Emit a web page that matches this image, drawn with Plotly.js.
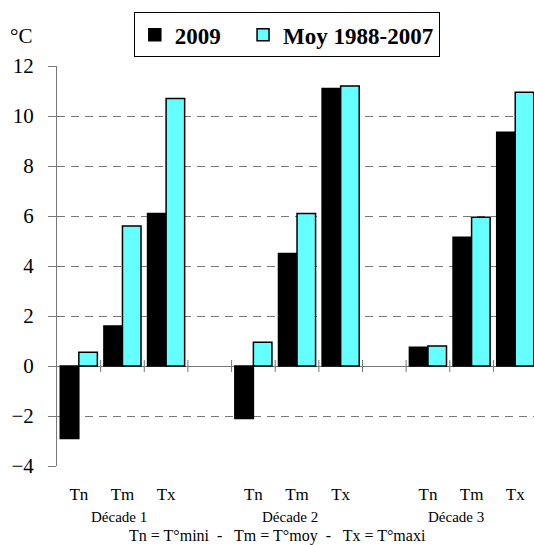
<!DOCTYPE html>
<html>
<head>
<meta charset="utf-8">
<script src="https://cdn.plot.ly/plotly-3.0.1.min.js"></script>
<style>html,body{margin:0;padding:0;overflow:hidden;background:#fff;}</style>
</head>
<body>
<div id="chart" style="width:534px;height:545px;"></div>
<script>
// positions of the categories along the axis (gaps between décades at 3 and 7)
const xPos = [0, 1, 2, 4, 5, 6, 8, 9, 10];
const tickLabels = ['Tn', 'Tm', 'Tx', 'Tn', 'Tm', 'Tx', 'Tn', 'Tm', 'Tx'];
const decades = ['Décade 1', 'Décade 2', 'Décade 3'];
const seriesNames = ['2009', 'Moy 1988-2007'];
const serie2009 = [-2.9, 1.6, 6.1, -2.1, 4.5, 11.1, 0.75, 5.15, 9.35];
const serieMoy = [0.55, 5.6, 10.7, 0.95, 6.1, 11.2, 0.8, 5.95, 10.95];
const yTicks = [-4, -2, 0, 2, 4, 6, 8, 10, 12];
const catBoundaries = [0.5, 1.5, 2.5, 3.5, 4.5, 5.5, 6.5, 7.5, 8.5, 9.5];

const serif = 'Liberation Serif';
const gray = '#787878';
const pad = '\u00a0\u00a0\u00a0';

const traces = [
  {type: 'bar', name: seriesNames[0] + pad, x: xPos, y: serie2009,
   marker: {color: '#000000', line: {color: '#000000', width: 1.5}}, hoverinfo: 'y'},
  {type: 'bar', name: seriesNames[1], x: xPos, y: serieMoy,
   marker: {color: '#66FFFF', line: {color: '#000000', width: 1.5}}, hoverinfo: 'y'}
];

// crossing tick marks on the x axis drawn at y = 0
const shapes = [];
catBoundaries.forEach(b => shapes.push({
  type: 'line', xref: 'x', yref: 'y',
  x0: b, x1: b, y0: -0.24, y1: 0.24, line: {color: gray, width: 1}
}));

const decadeX = [0.92, 4.84, 8.64];
const annotations = decades.map((d, i) => ({
  text: d, x: decadeX[i], xref: 'x', y: -0.1275, yref: 'paper',
  xanchor: 'center', yanchor: 'middle',
  showarrow: false, font: {family: serif, size: 15, color: '#000'}
}));
annotations.push({
  text: 'Tn = T°mini\u00a0\u00a0-\u00a0\u00a0 Tm = T°moy\u00a0\u00a0-\u00a0\u00a0 Tx = T°maxi',
  x: 0.4625, xref: 'paper', y: -0.1755, yref: 'paper',
  xanchor: 'center', yanchor: 'middle',
  showarrow: false, font: {family: serif, size: 16, color: '#000'}
});
annotations.push({
  text: '°C', x: -0.0745, xref: 'paper', y: 1.075, yref: 'paper',
  xanchor: 'center', yanchor: 'middle',
  showarrow: false, font: {family: serif, size: 21, color: '#000'}
});

const layout = {
  width: 534, height: 545,
  margin: {l: 57, r: 0, t: 66, b: 79},
  paper_bgcolor: '#fff', plot_bgcolor: '#fff',
  font: {family: serif, color: '#000'},
  barmode: 'group', bargap: 0.15, bargroupgap: 0,
  showlegend: true,
  legend: {
    orientation: 'h', x: 0.161, xanchor: 'left', y: 1.134, yanchor: 'top',
    bordercolor: '#000', borderwidth: 1, bgcolor: '#fff',
    font: {family: serif, size: 23, color: '#000', weight: 'bold'},
    traceorder: 'normal'
  },
  xaxis: {
    range: [-0.5, 10.43], tickvals: xPos, ticktext: tickLabels,
    ticks: '', showgrid: false, zeroline: false, showline: false,
    tickfont: {family: serif, size: 17, color: '#000'}, ticklabelstandoff: 16,
    fixedrange: true
  },
  yaxis: {
    range: [-4, 12], tickvals: yTicks,
    ticks: 'outside', ticklen: 8, tickcolor: gray, tickwidth: 1,
    showgrid: true, gridcolor: gray, gridwidth: 1, griddash: '8px,6px',
    zeroline: true, zerolinecolor: gray, zerolinewidth: 1,
    showline: true, linecolor: gray, linewidth: 1,
    tickfont: {family: serif, size: 21, color: '#000'}, ticklabelstandoff: 10,
    fixedrange: true
  },
  shapes: shapes,
  annotations: annotations
};

Plotly.newPlot('chart', traces, layout, {displayModeBar: false, staticPlot: true});
</script>
</body>
</html>
